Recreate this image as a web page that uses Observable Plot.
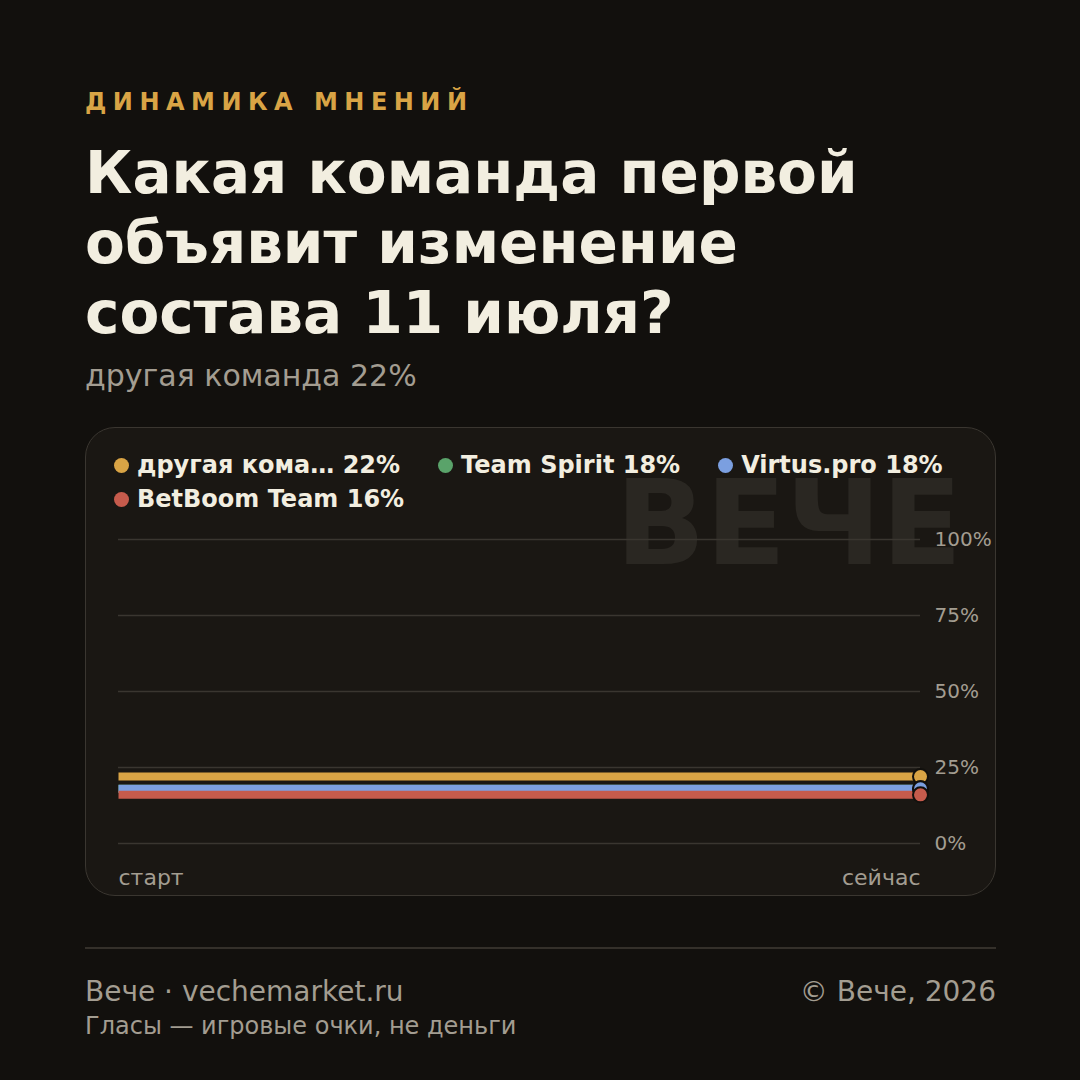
<!DOCTYPE html>
<html><head><meta charset="utf-8">
<script src="https://cdn.jsdelivr.net/npm/d3@7"></script>
<script src="https://cdn.jsdelivr.net/npm/@observablehq/plot@0.6"></script>
<style>
html,body{margin:0;padding:0;background:#12100d;}
#page{position:relative;width:1080px;height:1080px;overflow:hidden;background:#12100d;font-family:"DejaVu Sans",sans-serif;}
.abs{position:absolute;white-space:nowrap;}
#kicker{left:85px;top:90px;font-size:24px;line-height:24px;font-weight:bold;letter-spacing:0.27em;color:#d9a445;}
#title{left:85px;top:138px;font-size:58px;line-height:70px;font-weight:bold;color:#f2eee0;white-space:normal;width:900px;}
#subtitle{left:85px;top:361px;font-size:30px;line-height:30px;color:#a39d91;}
#card{left:85px;top:427px;width:909px;height:467px;border:1.5px solid #3a3630;border-radius:30px;background:#1a1713;}
#watermark{right:118px;top:464px;font-size:118px;line-height:118px;font-weight:bold;color:#2a2722;}
#legend{left:114px;top:448px;width:870px;display:flex;flex-wrap:wrap;column-gap:38px;font-size:24px;line-height:34px;font-weight:bold;color:#f2eee0;}
.item{display:flex;align-items:center;gap:8px;}
.sw{width:15px;height:15px;border-radius:50%;display:inline-block;}
#chart{left:85px;top:520px;}
#rule{left:85px;top:947px;width:911px;height:2px;background:#34302a;}
#foot1{left:85px;top:978px;font-size:28px;line-height:28px;color:#a39d91;}
#foot2{right:84px;top:978px;font-size:28px;line-height:28px;color:#a39d91;}
#foot3{left:85px;top:1014px;font-size:24px;line-height:24px;color:#a39d91;}
</style></head>
<body><div id="page">
<div class="abs" id="kicker">ДИНАМИКА МНЕНИЙ</div>
<div class="abs" id="title">Какая команда первой<br>объявит изменение<br>состава 11 июля?</div>
<div class="abs" id="subtitle">другая команда 22%</div>
<div class="abs" id="card"></div>
<div class="abs" id="watermark">ВЕЧЕ</div>
<div class="abs" id="legend"></div>
<div class="abs" id="chart"></div>
<div class="abs" id="rule"></div>
<div class="abs" id="foot1">Вече · vechemarket.ru</div>
<div class="abs" id="foot2">© Вече, 2026</div>
<div class="abs" id="foot3">Гласы — игровые очки, не деньги</div>
</div>
<script>
const series = ["другая команда", "Team Spirit", "Virtus.pro", "BetBoom Team"];
const legendNames = ["другая кома…", "Team Spirit", "Virtus.pro", "BetBoom Team"];
const startValues = [22, 18, 18, 16];
const nowValues = [22, 18, 18, 16];
const colors = ["#d9a445", "#5aa36a", "#7b9fe0", "#c65b4c"];
const xLabels = ["старт", "сейчас"];
const yTicks = [0, 25, 50, 75, 100];

const legend = document.getElementById("legend");
series.forEach((s, i) => {
  const it = document.createElement("div");
  it.className = "item";
  it.innerHTML = `<span class="sw" style="background:${colors[i]}"></span><span>${legendNames[i]} ${nowValues[i]}%</span>`;
  legend.appendChild(it);
});

const data = series.flatMap((name, i) => [
  {name, t: 0, v: startValues[i]},
  {name, t: 1, v: nowValues[i]}
]);

const chart = Plot.plot({
  width: 911, height: 376,
  marginLeft: 33, marginRight: 76, marginTop: 19, marginBottom: 53,
  style: {background: "transparent", fontFamily: "DejaVu Sans", color: "#a39d91", overflow: "visible"},
  x: {domain: [0, 1], axis: null},
  y: {domain: [0, 100], axis: null},
  color: {domain: series, range: colors},
  marks: [
    Plot.ruleY(yTicks, {stroke: "#3a3630", strokeWidth: 1.5}),
    Plot.axisY(yTicks, {anchor: "right", tickSize: 0, tickPadding: 14, tickFormat: d => d + "%", label: null, fill: "#a39d91", fontSize: 20}),
    Plot.line(data, {x: "t", y: "v", z: "name", stroke: "name", strokeWidth: 8, strokeLinecap: "butt"}),
    Plot.dot(data.filter(d => d.t === 1), {x: "t", y: "v", fill: "name", r: 7.5, stroke: "#12100d", strokeWidth: 2}),
    Plot.text([0], {x: d => d, text: d => xLabels[d], frameAnchor: "bottom", lineAnchor: "bottom", dy: 41, textAnchor: "start", fill: "#a39d91", fontSize: 22}),
    Plot.text([1], {x: d => d, text: d => xLabels[d], frameAnchor: "bottom", lineAnchor: "bottom", dy: 41, textAnchor: "end", fill: "#a39d91", fontSize: 22})
  ]
});
document.getElementById("chart").appendChild(chart);
</script>
</body></html>
